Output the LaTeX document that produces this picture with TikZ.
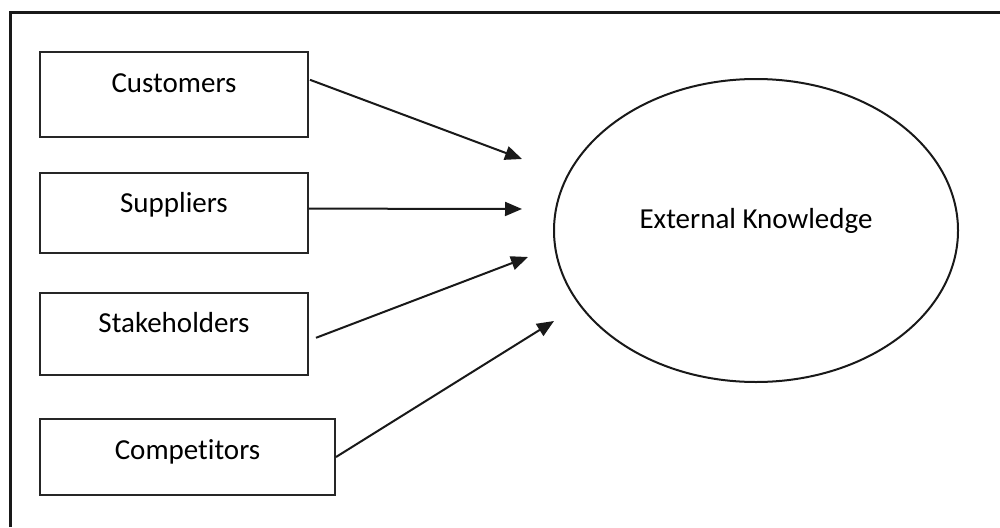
\documentclass[tikz,border=0pt]{standalone}
\usepackage{fontspec}
\setmainfont{Carlito}[Ligatures={NoCommon}]
\usetikzlibrary{arrows.meta,shapes.geometric,calc}
\begin{document}
\begin{tikzpicture}[x=1pt,y=-1pt,
  every node/.style={font=\fontsize{29}{34}\selectfont},
  framel/.style={line width=3pt,draw=black!90},
  srcbox/.style={draw=black!85,line width=2pt,rectangle,inner sep=0pt},
  txt/.style={text height=20pt,text depth=6pt,inner sep=0pt},
  knowl/.style={draw=black!90,line width=2pt,ellipse,inner sep=0pt,minimum width=404pt,minimum height=303pt},
  arr/.style={line width=2pt,draw=black!90,-{Triangle[length=17pt,width=14pt]}}]
\useasboundingbox (0,0) rectangle (1000,527);
\fill[white] (0,0) rectangle (1000,527);
% frame (only top and left edges are visible)
\draw[framel] (10.5,527) -- (10.5,12.3) -- (1000,12.3);
% source boxes
\node[srcbox,minimum width=268pt,minimum height=84.5pt,
  label={[txt,yshift=8.8pt]center:Customers}] (cust) at (174,94.5) {};
\node[srcbox,minimum width=268pt,minimum height=80pt,
  label={[txt,yshift=7.7pt]center:Suppliers}] (supp) at (174,212.7) {};
\node[srcbox,minimum width=268pt,minimum height=82pt,
  label={[txt,yshift=8.8pt]center:Stakeholders}] (stake) at (174,333.8) {};
\node[srcbox,minimum width=295pt,minimum height=76pt,
  label={[txt,yshift=5pt]center:Competitors}] (comp) at (187.5,457) {};
% ellipse
\node[knowl,label={[txt,yshift=9.2pt]center:External Knowledge}] (ek) at (756,230.5) {};
% arrow end points (arrows stop short of the ellipse)
\coordinate (t1) at (522,159);
\coordinate (t2) at (522,209);
\coordinate (t3) at (528,257);
\coordinate (t4) at (554,321);
\draw[arr] ($(cust.north east)!0.33!(cust.south east)+(1,0)$) -- (t1);
\draw[arr] ($(supp.north east)!0.45!(supp.south east)$) -- (t2);
\draw[arr] ($(stake.east)+(7,4)$) -- (t3);
\draw[arr] (comp.east) -- (t4);
\end{tikzpicture}
\end{document}
